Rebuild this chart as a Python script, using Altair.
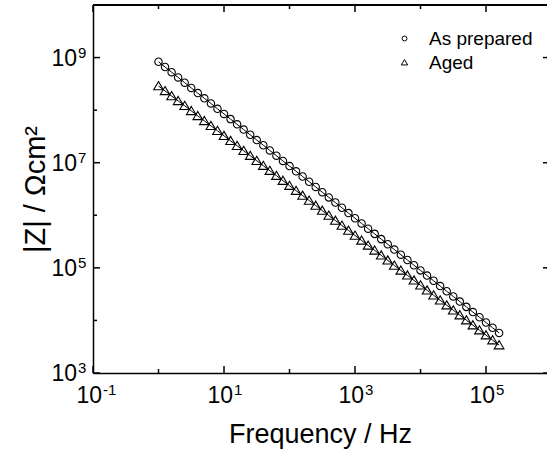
import altair as alt
import pandas as pd

# ---- data ----
freq_hz = [1.0, 1.259, 1.585, 1.995, 2.512, 3.162, 3.981, 5.012, 6.31, 7.943,
           10.0, 12.59, 15.85, 19.95, 25.12, 31.62, 39.81, 50.12, 63.1, 79.43,
           100.0, 125.9, 158.5, 199.5, 251.2, 316.2, 398.1, 501.2, 631.0, 794.3,
           1000.0, 1259.0, 1585.0, 1995.0, 2512.0, 3162.0, 3981.0, 5012.0, 6310.0, 7943.0,
           10000.0, 12590.0, 15850.0, 19950.0, 25120.0, 31620.0, 39810.0, 50120.0, 63100.0, 79430.0,
           100000.0, 125900.0, 158500.0]

z_as_prepared = [8.32e8, 6.62e8, 5.27e8, 4.19e8, 3.33e8, 2.65e8, 2.11e8, 1.68e8, 1.34e8, 1.06e8,
                 8.47e7, 6.75e7, 5.37e7, 4.27e7, 3.40e7, 2.70e7, 2.15e7, 1.71e7, 1.36e7, 1.08e7,
                 8.63e6, 6.87e6, 5.47e6, 4.35e6, 3.46e6, 2.75e6, 2.19e6, 1.75e6, 1.39e6, 1.10e6,
                 8.79e5, 7.00e5, 5.57e5, 4.43e5, 3.52e5, 2.81e5, 2.23e5, 1.78e5, 1.41e5, 1.12e5,
                 8.95e4, 7.13e4, 5.68e4, 4.51e4, 3.59e4, 2.86e4, 2.28e4, 1.81e4, 1.44e4, 1.15e4,
                 9.12e3, 7.26e3, 5.78e3]

z_aged = [2.88e8, 2.32e8, 1.86e8, 1.50e8, 1.21e8, 9.68e7, 7.78e7, 6.25e7, 5.03e7, 4.05e7,
          3.25e7, 2.61e7, 2.10e7, 1.69e7, 1.36e7, 1.09e7, 8.77e6, 7.05e6, 5.67e6, 4.56e6,
          3.66e6, 2.94e6, 2.37e6, 1.91e6, 1.53e6, 1.23e6, 9.89e5, 7.94e5, 6.40e5, 5.14e5,
          4.13e5, 3.32e5, 2.67e5, 2.15e5, 1.73e5, 1.39e5, 1.11e5, 8.95e4, 7.21e4, 5.79e4,
          4.66e4, 3.74e4, 3.01e4, 2.42e4, 1.95e4, 1.56e4, 1.26e4, 1.01e4, 8.13e3, 6.53e3,
          5.25e3, 4.22e3, 3.39e3]

series_names = ["As prepared", "Aged"]
# circle and an open triangle a bit wider than the circle
series_shapes = ["circle", "M0,-1.2L1.3,1L-1.3,1Z"]

x_major_vals = [0.1, 10.0, 1000.0, 100000.0]
x_major_exps = ["-1", "1", "3", "5"]
x_minor_vals = [1.0, 100.0, 10000.0]
y_major_vals = [1e3, 1e5, 1e7, 1e9]
y_major_exps = ["3", "5", "7", "9"]
y_minor_vals = [1e4, 1e6, 1e8]
tick_base = "10"

x_title = "Frequency / Hz"
y_title = "|Z| / Ωcm²"

# ---- layout ----
W, H = 454, 368
FONT = "Liberation Sans"
LBL, EXP = 23, 15

df = pd.concat([
    pd.DataFrame({"f": freq_hz, "z": z_as_prepared, "series": series_names[0]}),
    pd.DataFrame({"f": freq_hz, "z": z_aged, "series": series_names[1]}),
])

xscale = alt.Scale(type="log", domain=[0.1, 853000], nice=False)
yscale = alt.Scale(type="log", domain=[1e3, 1e10], nice=False)

xaxis = alt.Axis(values=x_major_vals, labels=False,
                 ticks=False, grid=False, domainColor="black", domainWidth=1.5,
                 title=x_title, titleFont=FONT, titleFontSize=27, titleFontWeight="normal",
                 titleColor="black", titlePadding=48)
yaxis = alt.Axis(values=y_major_vals, labels=False,
                 ticks=False, grid=False, domainColor="black", domainWidth=1.5,
                 title=y_title, titleFont=FONT, titleFontSize=29, titleFontWeight="normal",
                 titleColor="black", titlePadding=43)

xenc = alt.X("f:Q", scale=xscale, axis=xaxis)
yenc = alt.Y("z:Q", scale=yscale, axis=yaxis)

base = alt.Chart(df)

lines = base.mark_line(color="black", strokeWidth=1, clip=True).encode(
    x=xenc, y=yenc, detail="series:N"
)

points = base.mark_point(filled=False, color="black", strokeWidth=1.1, opacity=1,
                         size=55, clip=True).encode(
    x=xenc, y=yenc,
    shape=alt.Shape("series:N",
                    scale=alt.Scale(domain=series_names, range=series_shapes),
                    legend=alt.Legend(title=None, orient="none", legendX=302, legendY=24,
                                      labelFont=FONT, labelFontSize=19, labelColor="black",
                                      symbolSize=24, symbolStrokeColor="black",
                                      symbolFillColor="transparent", symbolStrokeWidth=1,
                                      rowPadding=4, labelOffset=15)),
)

xmaj = pd.DataFrame({"f": x_major_vals, "e": x_major_exps, "b": tick_base})
xmin = pd.DataFrame({"f": x_minor_vals})
ymaj = pd.DataFrame({"z": y_major_vals, "e": y_major_exps, "b": tick_base})
ymin = pd.DataFrame({"z": y_minor_vals})

MAJ, MIN = 7, 4

def xticks(data, y0, y1):
    return alt.Chart(data).mark_rule(color="black", strokeWidth=1.5).encode(
        x=xenc, y=alt.value(y0), y2=alt.value(y1))

def yticks(data, x0, x1):
    return alt.Chart(data).mark_rule(color="black", strokeWidth=1.5).encode(
        y=yenc, x=alt.value(x0), x2=alt.value(x1))

tick_layers = [
    xticks(xmaj, H, H - MAJ), xticks(xmin, H, H - MIN),
    xticks(xmaj, 0, MAJ), xticks(xmin, 0, MIN),
    yticks(ymaj, 0, MAJ), yticks(ymin, 0, MIN),
    yticks(ymaj, W - 4, W),
]

# tick labels: base "10" plus superscript exponent
x_base = alt.Chart(xmaj).mark_text(align="right", baseline="alphabetic", font=FONT,
                                   fontSize=LBL, color="black", dx=9).encode(
    x=xenc, y=alt.value(H + 30), text="b:N")
x_exp = alt.Chart(xmaj).mark_text(align="left", baseline="alphabetic", font=FONT,
                                  fontSize=EXP, color="black", dx=10).encode(
    x=xenc, y=alt.value(H + 22), text="e:N")
y_base = alt.Chart(ymaj).mark_text(align="right", baseline="alphabetic", font=FONT,
                                   fontSize=LBL, color="black", dy=8).encode(
    y=yenc, x=alt.value(-16), text="b:N")
y_exp = alt.Chart(ymaj).mark_text(align="left", baseline="alphabetic", font=FONT,
                                  fontSize=EXP, color="black", dy=0).encode(
    y=yenc, x=alt.value(-15), text="e:N")

top_border = alt.Chart(xmaj).mark_rule(color="black", strokeWidth=1.5).encode(
    x=alt.value(0), x2=alt.value(W), y=alt.value(0))

chart = alt.layer(lines, points, top_border, *tick_layers,
                  x_base, x_exp, y_base, y_exp).properties(
    width=W, height=H,
    autosize=alt.AutoSizeParams(type="none"),
    padding={"left": 93, "top": 5, "right": 0, "bottom": 86},
).configure_view(stroke=None).configure(background="white")

chart.save("out.html", embed_options={"renderer": "svg", "actions": False})
